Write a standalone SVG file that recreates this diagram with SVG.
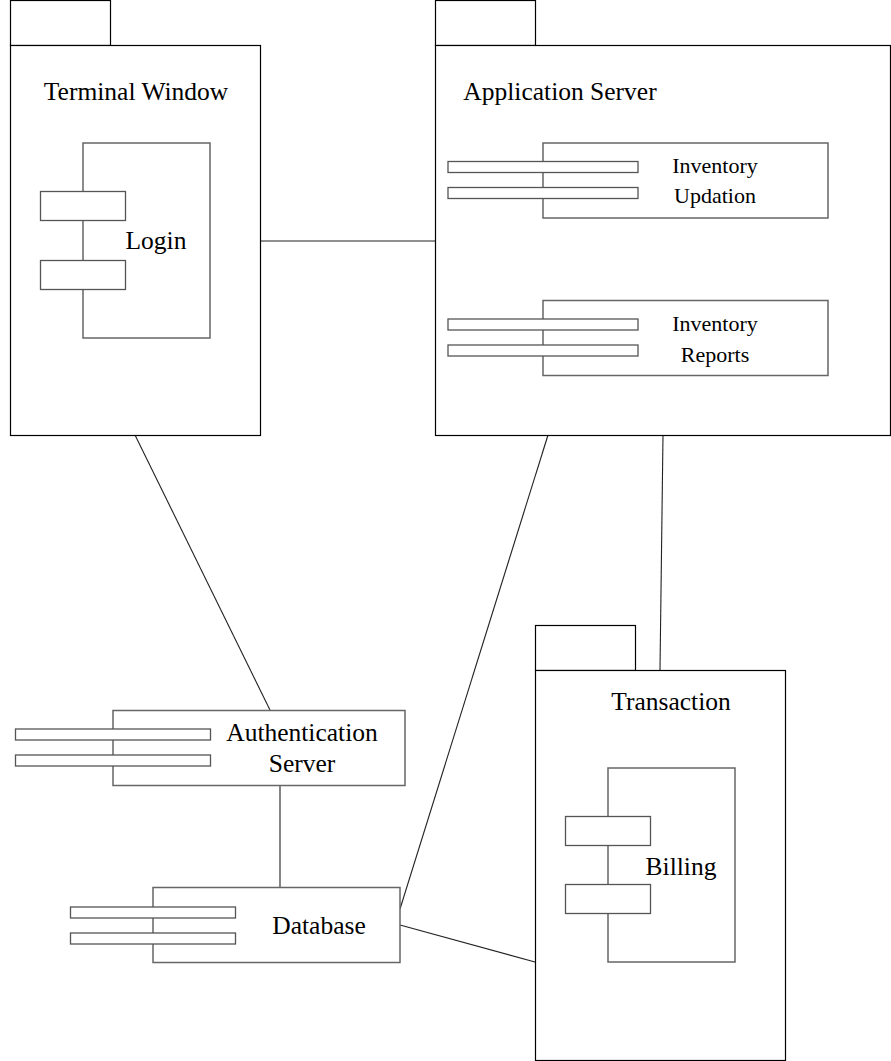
<svg xmlns="http://www.w3.org/2000/svg" width="891" height="1061" viewBox="0 0 891 1061">
<style>
.pkg{fill:#fff;stroke:#000;stroke-width:1.2}
.cmp{fill:#fff;stroke:#666;stroke-width:1.5}
.port{fill:#fff;stroke:#555;stroke-width:1.3}
.edge{stroke:#222;stroke-width:1.1;fill:none}
</style>
<rect width="891" height="1061" fill="#fff"/>
<g id="connectors">
<line class="edge" x1="260" y1="241" x2="435" y2="241"/>
<line class="edge" x1="135" y1="435" x2="270" y2="710"/>
<line class="edge" x1="548" y1="435" x2="400" y2="909"/>
<line class="edge" x1="663" y1="435" x2="660" y2="670"/>
<line class="edge" x1="280" y1="785" x2="280" y2="887"/>
<line class="edge" x1="400" y1="925" x2="535" y2="962"/>
</g>
<g id="terminal-window">
<rect class="pkg" x="10.5" y="0.5" width="100" height="45"/>
<rect class="pkg" x="10.5" y="45.5" width="250" height="390"/>
<text x="136" y="100" font-family="Times New Roman, Liberation Serif, serif" font-size="25.5" text-anchor="middle">Terminal Window</text>
</g>
<g id="login">
<rect class="cmp" x="83" y="143" width="127" height="195"/>
<rect class="port" x="40.5" y="191.5" width="85" height="29"/>
<rect class="port" x="40.5" y="260.5" width="85" height="29"/>
<text x="156" y="249" font-family="Times New Roman, Liberation Serif, serif" font-size="25.5" text-anchor="middle">Login</text>
</g>
<g id="application-server">
<rect class="pkg" x="435.5" y="0.5" width="100" height="45"/>
<rect class="pkg" x="435.5" y="45.5" width="455" height="390"/>
<text x="560" y="100" font-family="Times New Roman, Liberation Serif, serif" font-size="25.5" text-anchor="middle">Application Server</text>
</g>
<g id="inventory-updation">
<rect class="cmp" x="543" y="143" width="285" height="75"/>
<rect class="port" x="448" y="161.5" width="190" height="11"/>
<rect class="port" x="448" y="187.5" width="190" height="11"/>
<text x="715" y="173" font-family="Times New Roman, Liberation Serif, serif" font-size="22" text-anchor="middle">Inventory</text>
<text x="715" y="203" font-family="Times New Roman, Liberation Serif, serif" font-size="22" text-anchor="middle">Updation</text>
</g>
<g id="inventory-reports">
<rect class="cmp" x="543" y="300.5" width="285" height="75"/>
<rect class="port" x="448" y="319" width="190" height="11"/>
<rect class="port" x="448" y="345" width="190" height="11"/>
<text x="715" y="331" font-family="Times New Roman, Liberation Serif, serif" font-size="22" text-anchor="middle">Inventory</text>
<text x="715" y="362" font-family="Times New Roman, Liberation Serif, serif" font-size="22" text-anchor="middle">Reports</text>
</g>
<g id="authentication-server">
<rect class="cmp" x="113" y="710.5" width="292" height="75"/>
<rect class="port" x="15.5" y="729" width="195" height="11"/>
<rect class="port" x="15.5" y="755" width="195" height="11"/>
<text x="302" y="741" font-family="Times New Roman, Liberation Serif, serif" font-size="25.5" text-anchor="middle">Authentication</text>
<text x="302" y="772" font-family="Times New Roman, Liberation Serif, serif" font-size="25.5" text-anchor="middle">Server</text>
</g>
<g id="database">
<rect class="cmp" x="153" y="887.5" width="247" height="75"/>
<rect class="port" x="70.5" y="907" width="165" height="11"/>
<rect class="port" x="70.5" y="933" width="165" height="11"/>
<text x="319" y="934" font-family="Times New Roman, Liberation Serif, serif" font-size="25.5" text-anchor="middle">Database</text>
</g>
<g id="transaction">
<rect class="pkg" x="535.5" y="625.5" width="100" height="45"/>
<rect class="pkg" x="535.5" y="670.5" width="250" height="390"/>
<text x="671" y="710" font-family="Times New Roman, Liberation Serif, serif" font-size="25.5" text-anchor="middle">Transaction</text>
</g>
<g id="billing">
<rect class="cmp" x="608" y="768" width="127" height="194"/>
<rect class="port" x="565.5" y="816.5" width="85" height="29"/>
<rect class="port" x="565.5" y="884.5" width="85" height="29"/>
<text x="681" y="875" font-family="Times New Roman, Liberation Serif, serif" font-size="25.5" text-anchor="middle">Billing</text>
</g>
</svg>
